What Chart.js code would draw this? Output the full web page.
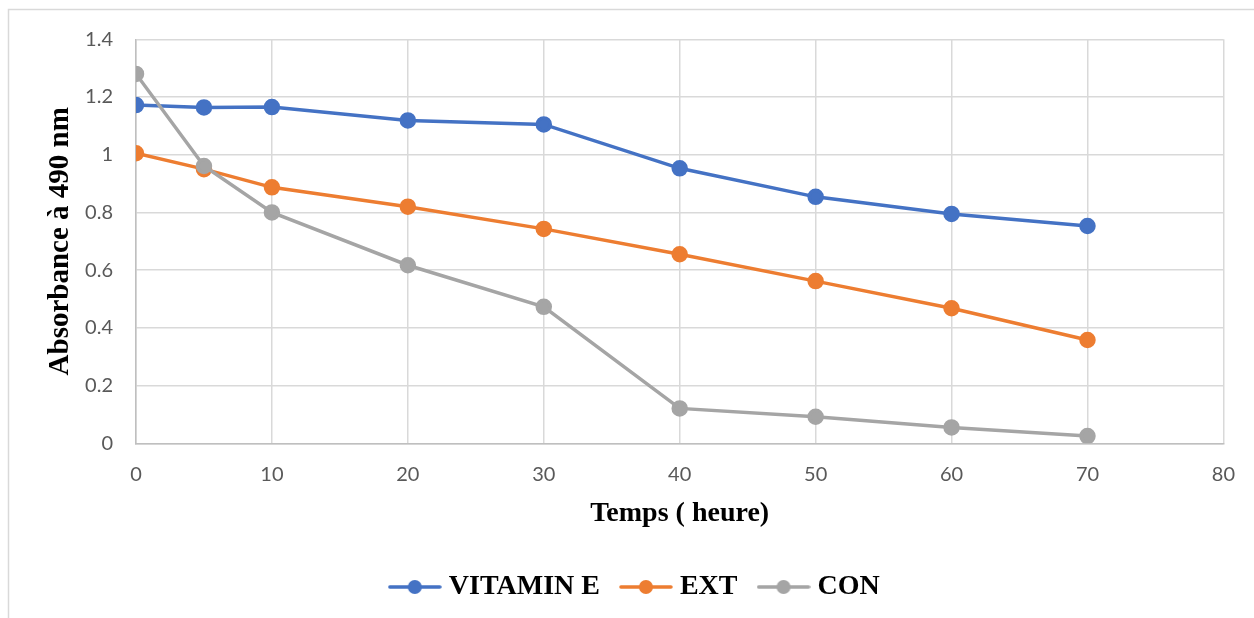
<!DOCTYPE html>
<html>
<head>
<meta charset="utf-8">
<script src="https://cdn.jsdelivr.net/npm/chart.js@4/dist/chart.umd.min.js"></script>
<style>
  html, body { margin: 0; padding: 0; background: #ffffff; }
  #wrap { width: 1254px; height: 618px; position: relative; }
</style>
</head>
<body>
<div id="wrap"><canvas id="chart" width="1254" height="618"></canvas></div>
<script>
// Sampling times (hours)
const hours = [0, 5, 10, 20, 30, 40, 50, 60, 70];

// Absorbance at 490 nm for each treatment
const vitaminE = [1.172, 1.164, 1.165, 1.119, 1.105, 0.953, 0.854, 0.795, 0.753];
const ext      = [1.005, 0.950, 0.887, 0.820, 0.743, 0.655, 0.562, 0.468, 0.358];
const con      = [1.280, 0.961, 0.800, 0.617, 0.473, 0.121, 0.092, 0.055, 0.025];

const seriesNames = ['VITAMIN E', 'EXT', 'CON'];

// Axis ticks
const xTickValues = [0, 10, 20, 30, 40, 50, 60, 70, 80];
const xTickLabels = ['0', '10', '20', '30', '40', '50', '60', '70', '80'];
const yTickValues = [0, 0.2, 0.4, 0.6, 0.8, 1, 1.2, 1.4];
const yTickLabels = ['0', '0.2', '0.4', '0.6', '0.8', '1', '1.2', '1.4'];

const colors = ['#4472C4', '#ED7D31', '#A5A5A5'];
const seriesValues = [vitaminE, ext, con];

// Legend swatch: short line with a dot in the middle
function makeSwatch(color) {
  const c = document.createElement('canvas');
  c.width = 54; c.height = 16;
  const g = c.getContext('2d');
  g.strokeStyle = color;
  g.lineWidth = 3.5;
  g.lineCap = 'round';
  g.beginPath(); g.moveTo(2, 8); g.lineTo(52, 8); g.stroke();
  g.fillStyle = color;
  g.beginPath(); g.arc(27, 8, 7, 0, Math.PI * 2); g.fill();
  return c;
}
const swatches = colors.map(makeSwatch);

const datasets = seriesNames.map((name, i) => ({
  label: name,
  data: hours.map((h, k) => ({ x: h, y: seriesValues[i][k] })),
  borderColor: colors[i],
  backgroundColor: colors[i],
  pointBackgroundColor: colors[i],
  pointBorderColor: colors[i],
  borderWidth: 3.5,
  pointRadius: 6.5,
  pointHoverRadius: 6.5,
  tension: 0,
  order: seriesNames.length - i
}));

// Light frame around the chart object
const framePlugin = {
  id: 'frame',
  beforeDraw(chart) {
    const ctx = chart.ctx;
    ctx.save();
    ctx.strokeStyle = '#d9d9d9';
    ctx.lineWidth = 1.5;
    ctx.beginPath();
    ctx.moveTo(8.5, 618);
    ctx.lineTo(8.5, 9.5);
    ctx.lineTo(1254, 9.5);
    ctx.stroke();
    ctx.restore();
  }
};

const tickFont = { family: 'Lato', size: 20 };
const serif = '"Liberation Serif", "Times New Roman", serif';
const titleFont = { family: serif, size: 28, weight: 'bold', lineHeight: 1 };
const yTitleFont = { family: serif, size: 29, weight: 'bold', lineHeight: 1 };

new Chart(document.getElementById('chart'), {
  type: 'line',
  data: { datasets },
  plugins: [framePlugin],
  options: {
    responsive: false,
    animation: false,
    devicePixelRatio: 1,
    layout: { padding: { left: 51, right: 30.5, top: 39.3, bottom: 7 } },
    plugins: {
      tooltip: { enabled: false },
      legend: {
        position: 'bottom',
        labels: {
          usePointStyle: true,
          pointStyleWidth: 40,
          padding: 26,
          color: '#000000',
          font: titleFont,
          sort: (a, b) => a.datasetIndex - b.datasetIndex,
          generateLabels(chart) {
            const items = Chart.defaults.plugins.legend.labels.generateLabels(chart);
            items.forEach(it => { it.pointStyle = swatches[it.datasetIndex]; });
            return items;
          }
        }
      }
    },
    scales: {
      x: {
        type: 'linear',
        min: 0,
        max: 80,
        afterBuildTicks(scale) { scale.ticks = xTickValues.map(v => ({ value: v })); },
        afterFit(scale) { scale.height = 103.7; },
        ticks: {
          padding: 19,
          color: '#595959',
          font: tickFont,
          callback: (v) => xTickLabels[xTickValues.indexOf(v)]
        },
        grid: { color: '#d9d9d9', lineWidth: 1.5, drawTicks: false },
        border: { color: '#bfbfbf', width: 1.5 },
        title: {
          display: true,
          text: 'Temps ( heure)',
          color: '#000000',
          font: titleFont,
          padding: { top: 0, bottom: 19 }
        }
      },
      y: {
        type: 'linear',
        min: 0,
        max: 1.4,
        afterBuildTicks(scale) { scale.ticks = yTickValues.map(v => ({ value: v })); },
        afterFit(scale) { scale.width = 85; },
        ticks: {
          padding: 23,
          color: '#595959',
          font: tickFont,
          callback: (v) => yTickLabels[yTickValues.indexOf(v)]
        },
        grid: { color: '#d9d9d9', lineWidth: 1.5, drawTicks: false },
        border: { color: '#bfbfbf', width: 1.5 },
        title: {
          display: true,
          text: 'Absorbance à 490 nm',
          color: '#000000',
          font: yTitleFont,
          padding: { top: -4.5, bottom: 0 }
        }
      }
    }
  }
});
</script>
</body>
</html>
